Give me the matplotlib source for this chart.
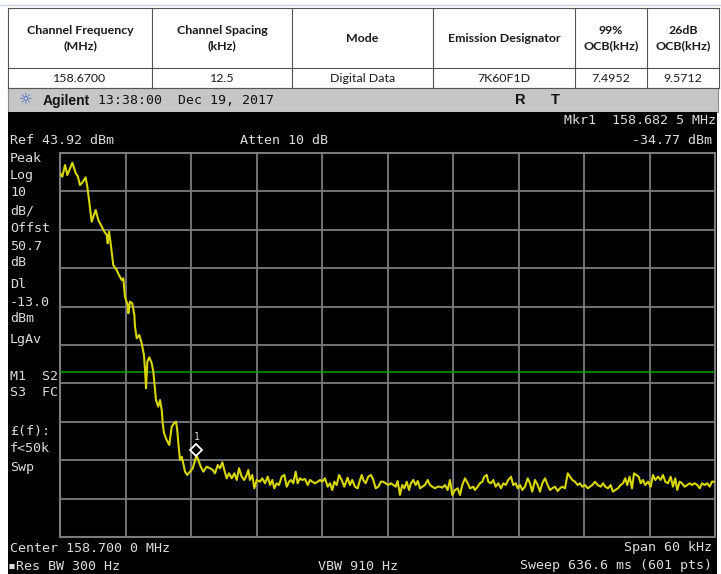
import numpy as np
import matplotlib
matplotlib.use("Agg")
import matplotlib.pyplot as plt
from matplotlib.patches import Rectangle
from matplotlib.transforms import offset_copy

# ---------------- data ----------------
table_headers = ["Channel Frequency\n(MHz)", "Channel Spacing\n(kHz)", "Mode",
                 "Emission Designator", "99%\nOCB(kHz)", "26dB\nOCB(kHz)"]
table_values = ["158.6700", "12.5", "Digital Data", "7K60F1D", "7.4952", "9.5712"]

center_mhz = 158.7
span_khz = 60.0
ref_level_dbm = 43.92
db_per_div = 10.0
display_line_dbm = -13.0
marker_freq_khz = -17.5          # offset from center -> 158.682 5 MHz
marker_level_dbm = -34.77

# trace: frequency offset from centre (kHz) and level (dBm)
freq_khz = [
    -30.00, -29.79, -29.54, -29.33, -28.87, -28.56, -28.38, -28.17, -27.96, -27.65,
    -27.50, -27.34, -27.10, -26.73, -26.49, -26.18, -25.94, -25.72, -25.63, -25.51,
    -25.36, -25.12, -24.81, -24.60, -24.35, -24.20, -24.05, -23.80, -23.74, -23.59,
    -23.38, -23.19, -23.13, -22.97, -22.74, -22.52, -22.31, -22.21, -22.12, -22.00,
    -21.82, -21.60, -21.45, -21.21, -21.00, -20.84, -20.68, -20.59, -20.47, -20.23,
    -19.99, -19.77, -19.56, -19.37, -19.26, -19.13, -19.01, -18.85, -18.71, -18.55,
    -18.34, -18.09, -17.84, -17.50, -17.33, -17.11, -16.87, -16.56, -16.26, -16.01,
    -15.80, -15.55, -15.34, -15.13, -14.95, -14.73, -14.52, -14.27, -14.03, -13.81,
    -13.60, -13.36, -13.12, -12.90, -12.75, -12.60, -12.39, -12.20, -11.98, -11.68,
    -11.47, -11.22, -10.97, -10.76, -10.55, -10.37, -10.15, -9.94, -9.69, -9.45,
    -9.23, -9.02, -8.84, -8.63, -8.41, -8.23, -8.02, -7.80, -7.56, -7.31,
    -7.10, -6.89, -6.64, -6.39, -6.18, -5.97, -5.73, -5.48, -5.27, -5.06,
    -4.87, -4.65, -4.44, -4.20, -3.96, -3.65, -3.44, -3.23, -2.98, -2.73,
    -2.52, -2.36, -2.22, -2.00, -1.76, -1.51, -1.30, -1.08, -0.84, -0.60,
    -0.39, -0.17, 0.07, 0.32, 0.53, 0.75, 0.93, 1.14, 1.35, 1.54,
    1.76, 1.97, 2.15, 2.36, 2.58, 2.77, 2.98, 3.19, 3.43, 3.68,
    3.89, 4.10, 4.35, 4.60, 4.81, 5.02, 5.27, 5.51, 5.72, 5.93,
    6.18, 6.43, 6.64, 6.85, 7.10, 7.35, 7.56, 7.86, 8.01, 8.26,
    8.47, 8.68, 8.87, 9.09, 9.23, 9.48, 9.69, 9.91, 10.15, 10.40,
    10.61, 10.83, 11.06, 11.31, 11.52, 11.74, 11.93, 12.14, 12.35, 12.59,
    12.84, 13.05, 13.26, 13.51, 13.76, 13.97, 14.18, 14.43, 14.67, 14.88,
    15.09, 15.34, 15.59, 15.80, 16.01, 16.26, 16.51, 16.72, 16.93, 17.17,
    17.42, 17.63, 17.84, 18.09, 18.34, 18.55, 18.76, 19.01, 19.25, 19.53,
    19.74, 19.95, 20.20, 20.44, 20.65, 20.87, 21.11, 21.36, 21.57, 21.78,
    21.96, 22.18, 22.40, 22.58, 22.79, 23.01, 23.19, 23.40, 23.61, 23.86,
    24.11, 24.32, 24.53, 24.78, 25.02, 25.23, 25.45, 25.69, 25.94, 26.15,
    26.36, 26.54, 26.76, 26.98, 27.22, 27.46, 27.68, 27.89, 28.14, 28.38,
    28.60, 28.81, 29.05, 29.29, 29.51, 29.72, 30.00,
]
level_dbm = [
    38.63, 37.75, 40.79, 38.19, 41.39, 38.63, 37.93, 35.59, 36.19, 37.59,
    35.14, 31.68, 26.03, 29.08, 26.47, 24.73, 23.43, 22.57, 20.40, 23.43,
    20.40, 14.75, 13.45, 12.15, 10.85, 11.29, 6.50, 4.34, 2.18, 5.20,
    4.78, 1.74, -1.31, -4.33, -3.47, -5.64, -8.68, -12.59, -17.35, -10.43,
    -9.28, -10.84, -13.03, -20.40, -22.14, -20.40, -23.00, -26.47, -29.07, -30.82,
    -32.12, -27.35, -26.47, -26.05, -28.21, -32.56, -36.02, -35.16, -36.88, -39.07,
    -39.93, -39.07, -38.18, -34.77, -36.02, -37.77, -39.07, -37.77, -38.18, -38.63,
    -39.49, -37.33, -38.18, -36.62, -38.63, -40.79, -39.49, -40.79, -39.49, -41.23,
    -38.18, -40.37, -41.23, -39.93, -38.63, -41.23, -39.93, -43.40, -41.23, -41.68,
    -40.79, -42.09, -40.37, -42.54, -41.23, -43.40, -42.09, -42.54, -40.37, -39.93,
    -42.98, -41.68, -41.23, -42.09, -39.07, -42.09, -40.79, -41.23, -40.97, -42.54,
    -41.23, -41.68, -42.09, -41.68, -41.23, -41.68, -40.79, -42.98, -42.09, -43.84,
    -41.68, -42.54, -39.93, -41.23, -42.98, -40.63, -42.54, -41.23, -42.98, -43.40,
    -41.23, -39.93, -41.23, -42.09, -40.37, -39.93, -41.23, -43.40, -42.98, -41.68,
    -41.68, -42.09, -42.54, -42.09, -42.54, -42.98, -41.50, -45.14, -42.54, -43.40,
    -41.68, -43.84, -42.09, -41.23, -42.54, -41.50, -43.40, -42.98, -42.54, -41.23,
    -42.54, -42.98, -43.40, -42.98, -42.98, -43.24, -42.54, -43.84, -41.23, -45.14,
    -43.84, -43.40, -45.14, -42.54, -40.79, -42.09, -43.40, -42.98, -43.84, -42.98,
    -42.09, -41.68, -40.37, -39.93, -41.68, -42.09, -41.23, -42.98, -42.09, -43.40,
    -42.09, -42.54, -41.23, -40.37, -42.54, -42.09, -43.40, -42.54, -43.84, -42.98,
    -40.79, -42.09, -44.28, -41.23, -42.54, -44.28, -42.09, -40.79, -42.54, -43.84,
    -43.40, -42.98, -44.10, -43.40, -42.98, -43.40, -39.49, -40.37, -41.23, -41.68,
    -42.54, -42.09, -42.98, -42.54, -43.40, -42.98, -42.54, -41.68, -42.54, -42.98,
    -42.09, -42.98, -43.40, -42.54, -44.28, -43.84, -43.40, -42.54, -42.09, -40.79,
    -42.54, -40.37, -43.40, -39.49, -39.93, -40.37, -42.09, -41.23, -42.54, -41.68,
    -42.98, -39.93, -41.23, -40.37, -41.23, -39.93, -41.68, -42.09, -40.37, -42.98,
    -40.79, -43.84, -41.68, -42.09, -42.98, -42.54, -42.09, -42.54, -42.09, -42.54,
    -43.40, -42.09, -42.54, -42.09, -42.98, -41.68, -41.68,
]

left_labels = ["Peak", "Log", "10", "dB/", "Offst", "50.7", "dB", "Dl", "-13.0", "dBm",
               "LgAv", "M1  S2", "S3  FC", "£(f):", "f<50k", "Swp"]

# ---------------- figure ----------------
W, H = 721, 574
fig = plt.figure(figsize=(W / 100, H / 100), dpi=100, facecolor="white")
bg = fig.add_axes([0, 0, 1, 1], zorder=0)
bg.set_xlim(0, W)
bg.set_ylim(H, 0)
bg.axis("off")

mono = ["DejaVu Sans Mono", "DejaVu Sans"]
scr_col = "#dcdcdc"

# faint top line
bg.plot([0, W], [4.5, 4.5], color="#c9d3e2", lw=1.0)

# table
col_x = [8, 152, 292, 433, 575, 647, 719]
row_y = [8, 68, 88]
for y in row_y:
    bg.plot([col_x[0], col_x[-1]], [y, y], color="#555555", lw=0.8)
for x in col_x:
    bg.plot([x, x], [row_y[0], row_y[-1]], color="#555555", lw=0.8)
for i in range(len(table_headers)):
    cx = (col_x[i] + col_x[i + 1]) / 2
    bg.text(cx, (row_y[0] + row_y[1]) / 2, table_headers[i], ha="center", va="center",
            fontsize=8.9, fontweight="bold", family="Lato", color="#1a1a1a", linespacing=1.45)
    bg.text(cx, (row_y[1] + row_y[2]) / 2 + 0.5, table_values[i], ha="center", va="center",
            fontsize=8.9, family="Lato", color="#1a1a1a")

# instrument title bar
bg.add_patch(Rectangle((8, 88), 710, 24, facecolor="#c6c6c6", edgecolor="#8a8a8a", lw=0.8))
bg.text(26, 100.5, "☼", ha="center", va="center", fontsize=11, color="#3a5fd0", family="DejaVu Sans")
bg.text(43, 100.5, "Agilent", ha="left", va="center", fontsize=10, fontweight="bold",
        family="Liberation Sans", color="#111111")
bg.text(98, 101, "13:38:00  Dec 19, 2017", ha="left", va="center", fontsize=9.5,
        family=mono, color="#111111")
bg.text(520, 100.5, "R", ha="center", va="center", fontsize=10.5, fontweight="bold",
        family="Liberation Sans", color="#111111")
bg.text(555, 100.5, "T", ha="center", va="center", fontsize=10.5, fontweight="bold",
        family="Liberation Sans", color="#111111")

# black screen
bg.add_patch(Rectangle((8, 112), 709, H - 112, facecolor="black", edgecolor="none"))

fs = 9.6
bg.text(716, 121, "Mkr1  158.682 5 MHz", ha="right", va="center", fontsize=fs, family=mono, color=scr_col)
bg.text(10, 141, f"Ref {ref_level_dbm:.2f} dBm", ha="left", va="center", fontsize=fs, family=mono, color=scr_col)
bg.text(240, 141, "Atten 10 dB", ha="left", va="center", fontsize=fs, family=mono, color=scr_col)
bg.text(712, 141, f"{marker_level_dbm:.2f} dBm", ha="right", va="center", fontsize=fs, family=mono, color=scr_col)

label_y = [158, 176, 193, 211, 229, 246, 263, 284, 302, 319, 340, 376, 393, 432, 449, 467]
for lab, yy in zip(left_labels, label_y):
    bg.text(10, yy, lab, ha="left", va="center", fontsize=fs, family=mono, color=scr_col)
bg.text(712, 211, "Ext Ref", ha="right", va="center", fontsize=fs, family=mono, color=scr_col)

bg.text(10, 548, f"Center {center_mhz:.3f} 0 MHz", ha="left", va="center", fontsize=fs, family=mono, color=scr_col)
bg.text(712, 548, f"Span {span_khz:.0f} kHz", ha="right", va="center", fontsize=fs, family=mono, color=scr_col)
bg.text(8, 566, "▪Res BW 300 Hz", ha="left", va="center", fontsize=fs, family=mono, color=scr_col)
bg.text(318, 566, "VBW 910 Hz", ha="left", va="center", fontsize=fs, family=mono, color=scr_col)
bg.text(712, 566, "Sweep 636.6 ms (601 pts)", ha="right", va="center", fontsize=fs, family=mono, color=scr_col)

# ---------------- trace axes ----------------
gl, gr, gt, gb = 60, 715, 153, 537
ax = fig.add_axes([gl / W, 1 - gb / H, (gr - gl) / W, (gb - gt) / H], zorder=2)
ax.set_facecolor("black")
ax.set_xlim(-span_khz / 2, span_khz / 2)
ax.set_ylim(ref_level_dbm - 10 * db_per_div, ref_level_dbm)
ax.set_xticks(np.linspace(-span_khz / 2, span_khz / 2, 11))
ax.set_yticks(np.linspace(ref_level_dbm - 10 * db_per_div, ref_level_dbm, 11))
ax.tick_params(length=0, labelbottom=False, labelleft=False)
ax.grid(True, color="#7c7c7c", lw=1.3)
for s in ax.spines.values():
    s.set_color("#7c7c7c")
    s.set_linewidth(1.5)

ax.axhline(display_line_dbm, color="#00a800", lw=1.1, zorder=3)
ax.plot(freq_khz, level_dbm, color="#d6d600", lw=1.5, zorder=4)

mk_tr = offset_copy(ax.transData, fig=fig, x=0, y=5, units="dots")
ax.plot([marker_freq_khz], [marker_level_dbm], marker="D", markersize=6.5,
        markerfacecolor="none", markeredgecolor="white", markeredgewidth=1.3,
        transform=mk_tr, zorder=5)
ax.annotate("1", (marker_freq_khz, marker_level_dbm), xytext=(0, 13), textcoords="offset pixels",
            ha="center", va="bottom", fontsize=7, family=mono, color=scr_col, zorder=5)

fig.savefig("out.png", dpi=100, facecolor="white")
